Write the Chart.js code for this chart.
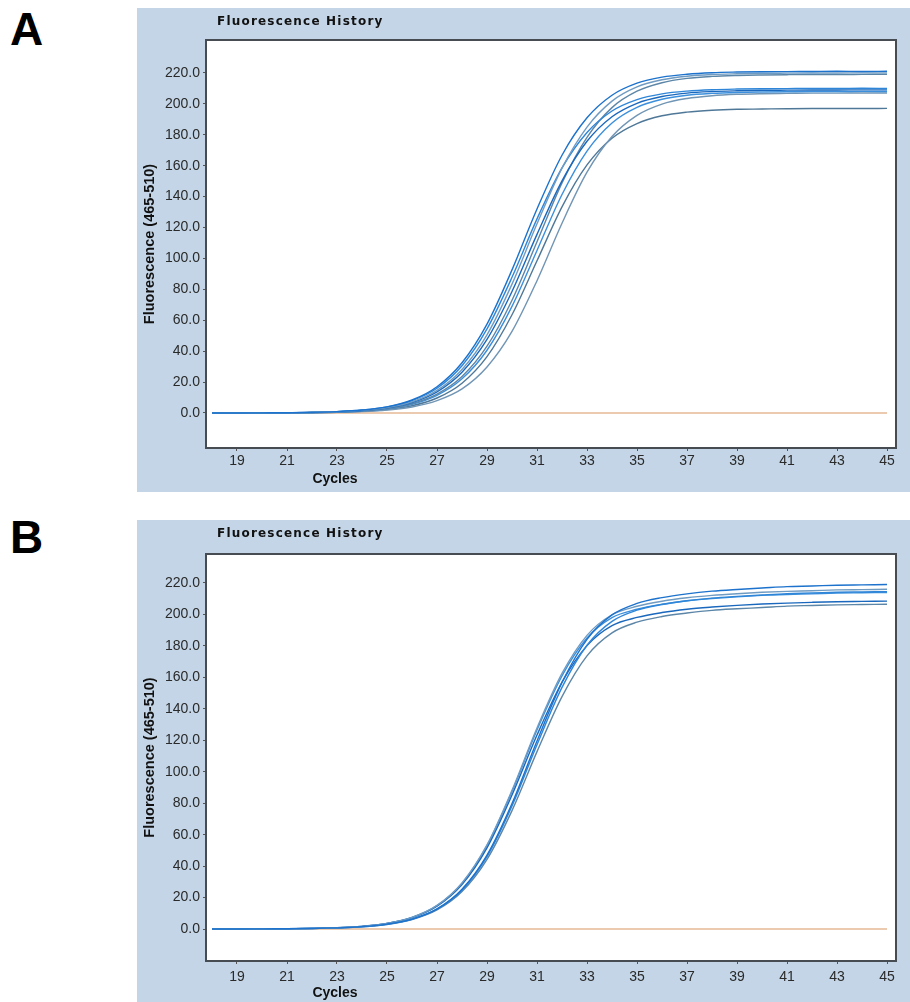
<!DOCTYPE html>
<html>
<head>
<meta charset="utf-8">
<script src="https://cdn.jsdelivr.net/npm/chart.js@4.4.1/dist/chart.umd.min.js"></script>
<style>
  body { margin: 0; background: #fff; }
  #page { position: relative; width: 910px; height: 1002px; overflow: hidden; }
  .panel-label { position: absolute; left: 10px; font: bold 46px "Liberation Sans", Arial, sans-serif; line-height: 1; color: #000; }
  canvas { position: absolute; }
</style>
</head>
<body>
<div id="page">
  <div class="panel-label" style="top:6px">A</div>
  <div class="panel-label" style="top:514px">B</div>
  <canvas id="chartA" width="773" height="484" style="left:137px;top:8px"></canvas>
  <canvas id="chartB" width="773" height="482" style="left:137px;top:520px"></canvas>
</div>
<script>
// cycle numbers shared by every run
const cycles = [18, 19, 20, 21, 22, 23, 24, 25, 26, 27, 28, 29, 30, 31, 32, 33, 34, 35, 36, 37, 38, 39, 40, 41, 42, 43, 44, 45];
const cycleTicks = [19, 21, 23, 25, 27, 29, 31, 33, 35, 37, 39, 41, 43, 45];
const fluorTicks = [0, 20, 40, 60, 80, 100, 120, 140, 160, 180, 200, 220];
const threshold = [0, 0, 0, 0, 0, 0, 0, 0, 0, 0, 0, 0, 0, 0, 0, 0, 0, 0, 0, 0, 0, 0, 0, 0, 0, 0, 0, 0];

// panel A runs
const a1 = [0.0, 0.0, 0.1, 0.2, 0.4, 0.9, 1.9, 4.0, 8.4, 17.0, 32.5, 57.5, 92.6, 132.0, 166.8, 191.0, 205.6, 213.4, 217.3, 219.2, 220.2, 220.6, 220.8, 220.9, 221.0, 221.1, 221.0, 221.1];
const a2 = [0.0, 0.0, 0.1, 0.2, 0.3, 0.8, 1.7, 3.5, 7.2, 14.6, 28.2, 50.6, 83.4, 122.4, 158.4, 185.0, 201.8, 211.0, 215.6, 217.9, 219.0, 219.5, 219.8, 219.9, 220.0, 220.0, 220.1, 220.1];
const a3 = [0.0, 0.0, 0.1, 0.2, 0.4, 0.9, 1.9, 3.9, 8.0, 16.0, 30.6, 54.4, 87.8, 125.6, 158.6, 181.5, 195.4, 202.8, 206.5, 208.3, 209.2, 209.6, 209.8, 209.9, 210.0, 210.0, 210.1, 210.0];
const a4 = [0.0, 0.0, 0.1, 0.2, 0.3, 0.7, 1.6, 3.3, 6.8, 13.7, 26.4, 47.6, 78.6, 115.6, 150.2, 175.8, 191.7, 200.4, 204.8, 207.0, 208.0, 208.5, 208.8, 208.9, 209.0, 209.0, 209.1, 209.1];
const a5 = [0.0, 0.0, 0.1, 0.1, 0.3, 0.6, 1.4, 2.9, 6.0, 12.2, 23.6, 43.2, 73.0, 110.8, 148.9, 178.4, 197.6, 208.2, 213.7, 216.5, 217.8, 218.4, 218.7, 218.9, 219.0, 219.0, 219.1, 219.2];
const a6 = [0.0, 0.0, 0.1, 0.1, 0.3, 0.6, 1.3, 2.7, 5.6, 11.4, 22.1, 40.6, 69.0, 105.2, 141.4, 169.5, 187.7, 197.8, 203.0, 205.6, 206.8, 207.4, 207.7, 207.9, 208.0, 208.0, 208.1, 208.0];
const a7 = [0.0, 0.0, 0.0, 0.1, 0.2, 0.4, 0.9, 1.9, 3.9, 8.0, 15.6, 29.8, 52.8, 85.6, 122.8, 155.8, 178.9, 192.6, 199.9, 203.5, 205.3, 206.2, 206.6, 206.8, 207.0, 207.0, 207.1, 207.1];
const a8 = [0.0, 0.0, 0.1, 0.1, 0.3, 0.5, 1.1, 2.3, 4.7, 9.7, 19.3, 36.5, 63.6, 98.5, 133.4, 160.5, 177.8, 187.3, 192.3, 194.7, 195.9, 196.5, 196.7, 196.9, 197.0, 197.0, 197.0, 197.1];

// panel B runs
const b1 = [0.0, 0.0, 0.1, 0.2, 0.3, 0.7, 1.5, 3.1, 6.3, 12.8, 25.3, 47.0, 79.8, 119.6, 156.8, 184.2, 199.7, 207.0, 210.7, 213.1, 214.8, 215.9, 216.8, 217.7, 218.1, 218.6, 218.8, 219.0];
const b2 = [0.0, 0.0, 0.1, 0.2, 0.4, 0.8, 1.7, 3.6, 7.4, 15.0, 29.3, 53.5, 88.2, 127.8, 162.5, 186.7, 199.8, 205.2, 208.4, 210.6, 212.1, 213.2, 214.1, 214.7, 215.1, 215.6, 215.8, 216.0];
const b3 = [0.0, 0.0, 0.1, 0.2, 0.3, 0.7, 1.4, 3.0, 6.2, 12.6, 24.7, 46.0, 78.2, 117.2, 153.6, 180.4, 195.6, 202.7, 206.3, 208.7, 210.4, 211.5, 212.4, 213.2, 213.6, 214.1, 214.3, 214.5];
const b4 = [0.0, 0.0, 0.1, 0.2, 0.4, 0.8, 1.7, 3.5, 7.2, 14.5, 28.3, 51.6, 85.2, 123.3, 156.9, 180.2, 192.9, 198.1, 201.2, 203.3, 204.7, 205.8, 206.6, 207.2, 207.7, 208.1, 208.3, 208.5];
const b5 = [0.0, 0.0, 0.1, 0.2, 0.3, 0.7, 1.4, 2.9, 6.0, 12.1, 23.8, 44.3, 75.3, 112.8, 147.8, 173.7, 188.3, 195.1, 198.7, 200.9, 202.6, 203.6, 204.4, 205.3, 205.7, 206.1, 206.3, 206.5];
const b6 = [0.0, 0.0, 0.1, 0.2, 0.4, 0.8, 1.7, 3.6, 7.4, 14.9, 29.0, 53.0, 87.4, 126.6, 161.0, 185.0, 198.0, 203.3, 206.5, 208.7, 210.1, 211.2, 212.1, 212.7, 213.1, 213.6, 213.8, 214.0];

const runColors = ['#1c72cc', '#6f9bc2', '#2f86d8', '#1a68bd', '#5c86a8', '#3b8fdc', '#7095b5', '#4f7898'];

const panelBg = '#c3d5e6';
const tickFont = { family: '"Liberation Sans", Arial, sans-serif', size: 14 };

const lightCyclerFrame = {
  id: 'lightCyclerFrame',
  beforeDraw(chart) {
    const { ctx, chartArea: a } = chart;
    ctx.save();
    ctx.fillStyle = panelBg;
    ctx.fillRect(0, 0, chart.width, chart.height);
    ctx.fillStyle = '#ffffff';
    ctx.fillRect(a.left, a.top, a.right - a.left, a.bottom - a.top);
    ctx.restore();
  },
  afterDraw(chart, args, opts) {
    const { ctx, chartArea: a } = chart;
    const y = chart.scales.y;
    ctx.save();
    // minor ticks on the fluorescence axis
    ctx.strokeStyle = '#666';
    ctx.lineWidth = 1;
    for (let v = -20; v <= 240; v += 5) {
      if (v % 20 === 0) continue;
      const py = Math.round(y.getPixelForValue(v)) + 0.5;
      if (py < a.top || py > a.bottom) continue;
      ctx.beginPath();
      ctx.moveTo(a.left - 2, py);
      ctx.lineTo(a.left, py);
      ctx.stroke();
    }
    // plot frame
    ctx.strokeStyle = '#474c52';
    ctx.lineWidth = 2;
    ctx.strokeRect(a.left - 1, a.top - 1, a.right - a.left + 2, a.bottom - a.top + 2);

    ctx.fillStyle = '#111';
    ctx.textBaseline = 'middle';
    // title
    ctx.font = 'bold 12px "DejaVu Sans", Verdana, sans-serif';
    ctx.letterSpacing = '1.2px';
    ctx.textAlign = 'left';
    ctx.fillText('Fluorescence History', 80, 14);
    ctx.letterSpacing = '0px';
    // x axis title
    ctx.font = 'bold 14px "Liberation Sans", Arial, sans-serif';
    ctx.textAlign = 'center';
    ctx.fillText('Cycles', a.left + 128, chart.height - opts.cyclesOffset);
    // y axis title
    ctx.translate(13, (a.top + a.bottom) / 2);
    ctx.rotate(-Math.PI / 2);
    ctx.font = 'bold 14.5px "Liberation Sans", Arial, sans-serif';
    ctx.fillText('Fluorescence (465-510)', 0, 0);
    ctx.restore();
  }
};

function buildChart(canvasId, runs, yMin, yMax, topPad, xAxisHeight, tickPad, cyclesOffset) {
  const datasets = runs.map((run, i) => ({
    data: cycles.map((c, j) => ({ x: c, y: run[j] })),
    borderColor: runColors[i % runColors.length],
    borderWidth: 1.4,
    pointRadius: 0,
    cubicInterpolationMode: 'monotone',
    order: 1
  }));
  datasets.push({
    data: cycles.map((c, j) => ({ x: c, y: threshold[j] })),
    borderColor: '#e6b894',
    borderWidth: 1.6,
    pointRadius: 0,
    order: 10
  });

  return new Chart(document.getElementById(canvasId), {
    type: 'line',
    data: { datasets: datasets },
    plugins: [lightCyclerFrame],
    options: {
      responsive: false,
      animation: false,
      layout: { padding: { top: topPad, right: 15, left: 0, bottom: 0 } },
      plugins: {
        legend: { display: false },
        tooltip: { enabled: false },
        lightCyclerFrame: { cyclesOffset: cyclesOffset }
      },
      scales: {
        x: {
          type: 'linear',
          min: 17.8,
          max: 45.32,
          afterFit: (s) => { s.height = xAxisHeight; },
          afterBuildTicks: (s) => { s.ticks = cycleTicks.map(v => ({ value: v })); },
          grid: { drawOnChartArea: false, tickLength: 4, color: '#555' },
          border: { display: false },
          ticks: { font: tickFont, color: '#2a2a2a', padding: tickPad, maxRotation: 0, autoSkip: false,
                   callback: (v) => String(v) }
        },
        y: {
          min: yMin,
          max: yMax,
          afterFit: (s) => { s.width = 70; },
          afterBuildTicks: (s) => { s.ticks = fluorTicks.map(v => ({ value: v })); },
          grid: { drawOnChartArea: false, tickLength: 4, color: '#555' },
          border: { display: false },
          ticks: { font: tickFont, color: '#2a2a2a', padding: 3, autoSkip: false,
                   callback: (v) => Number(v).toFixed(1) }
        }
      }
    }
  });
}

buildChart('chartA', [a1, a2, a3, a4, a5, a6, a7, a8], -22.0, 240.7, 33, 45, 2, 13);
buildChart('chartB', [b1, b2, b3, b4, b5, b6], -19.7, 237.8, 35, 42, 5, 9);
</script>
</body>
</html>
